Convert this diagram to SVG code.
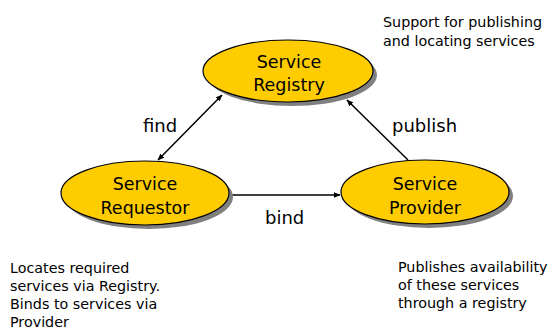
<svg xmlns="http://www.w3.org/2000/svg" width="552" height="334" viewBox="0 0 552 334">
<defs>
<style>
.sh{fill:#808080;stroke:none}
.el{fill:#FFCC00;stroke:#000;stroke-width:1.2}
.nt{font-family:"DejaVu Sans",Verdana,sans-serif;font-size:17.5px;fill:#000;text-anchor:middle}
.lb{font-family:"DejaVu Sans",Verdana,sans-serif;font-size:18px;fill:#000}
.nc{font-family:"DejaVu Sans",Verdana,sans-serif;font-size:14.3px;fill:#000}
.ln{stroke:#000;stroke-width:1.5;fill:none}
</style>
<marker id="ah" viewBox="0 0 10 10" refX="9" refY="5" markerWidth="7" markerHeight="7" orient="auto-start-reverse" markerUnits="userSpaceOnUse">
<path d="M0,1 L10,5 L0,9 Z" fill="#000"/>
</marker>
</defs>
<rect width="552" height="334" fill="#fff"/>
<g id="connectors">
<line class="ln" x1="222" y1="95" x2="158" y2="160" marker-start="url(#ah)" marker-end="url(#ah)"/>
<line class="ln" x1="231" y1="195" x2="340" y2="195" marker-end="url(#ah)"/>
<line class="ln" x1="408" y1="160" x2="347" y2="100" marker-end="url(#ah)"/>
</g>
<g id="registry">
<ellipse class="sh" cx="292" cy="75" rx="85" ry="31"/>
<ellipse class="el" cx="288" cy="71" rx="85" ry="31"/>
<text class="nt" x="289" y="68">Service</text>
<text class="nt" x="289" y="91">Registry</text>
</g>
<g id="requestor">
<ellipse class="sh" cx="149" cy="197" rx="84" ry="32"/>
<ellipse class="el" cx="145" cy="193" rx="84" ry="32"/>
<text class="nt" x="145" y="190">Service</text>
<text class="nt" x="145" y="214">Requestor</text>
</g>
<g id="provider">
<ellipse class="sh" cx="429" cy="196" rx="84" ry="32"/>
<ellipse class="el" cx="425" cy="192" rx="84" ry="32"/>
<text class="nt" x="425" y="190">Service</text>
<text class="nt" x="425" y="214">Provider</text>
</g>
<g id="labels">
<text class="lb" x="143" y="132">find</text>
<text class="lb" x="392" y="132">publish</text>
<text class="lb" x="265" y="224">bind</text>
</g>
<g id="notes">
<text class="nc" x="383" y="27">Support for publishing</text>
<text class="nc" x="383" y="45.5">and locating services</text>
<text class="nc" x="10" y="273">Locates required</text>
<text class="nc" x="10" y="291">services via Registry.</text>
<text class="nc" x="10" y="309">Binds to services via</text>
<text class="nc" x="10" y="327">Provider</text>
<text class="nc" x="398" y="272">Publishes availability</text>
<text class="nc" x="398" y="290">of these services</text>
<text class="nc" x="398" y="308">through a registry</text>
</g>
</svg>
